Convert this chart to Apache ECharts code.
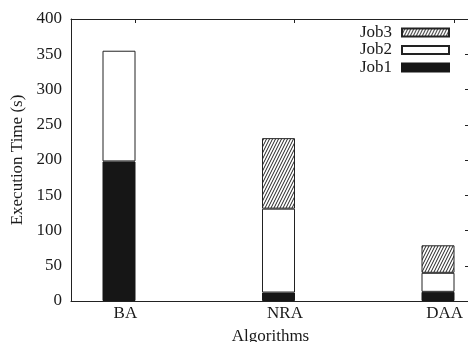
<!DOCTYPE html>
<html>
<head>
<meta charset="utf-8">
<script src="https://cdn.jsdelivr.net/npm/echarts@6/dist/echarts.min.js"></script>
<style>
  html, body { margin: 0; padding: 0; background: #fff; }
  #chart { width: 468px; height: 342px; }
</style>
</head>
<body>
<div id="chart"></div>
<script>
// Execution time per algorithm, stacked by job
const categories = ['BA', 'NRA', 'DAA'];
const job1 = [198, 12, 13];
const job2 = [157, 119, 27];
const job3 = ['-', 100, 39];
const yTicks = [0, 50, 100, 150, 200, 250, 300, 350, 400];

const FONT = 'Liberation Serif';
const INK = '#1a1a1a';

// Diagonal hatch fill for Job3
function hatchPattern() {
  const c = document.createElement('canvas');
  c.width = 3; c.height = 6;
  const g = c.getContext('2d');
  g.fillStyle = '#fff';
  g.fillRect(0, 0, 3, 6);
  g.strokeStyle = '#222';
  g.lineWidth = 1;
  for (const dx of [-3, 0, 3]) {
    g.beginPath();
    g.moveTo(dx, 6);
    g.lineTo(dx + 3, 0);
    g.stroke();
  }
  return { image: c, repeat: 'repeat' };
}

const chart = echarts.init(document.getElementById('chart'), null, { renderer: 'canvas' });

const TOP = 19, BOTTOM = 41;

const barBase = {
  type: 'bar',
  stack: 'jobs',
  barWidth: 33,
  xAxisIndex: 2,
  yAxisIndex: 2
};

chart.setOption({
  animation: false,
  backgroundColor: '#fff',
  grid: [
    // frame grid: x range -0.3 .. 2.2 in category units
    { left: 71, right: -2, top: TOP, bottom: BOTTOM, outerBoundsMode: 'none', containLabel: false },
    // bar grid: three equal category bands on the same unit scale
    { left: 39.25, width: 478.5, top: TOP, bottom: BOTTOM, outerBoundsMode: 'none', containLabel: false }
  ],
  legend: {
    data: ['Job3', 'Job2', 'Job1'],
    orient: 'vertical',
    right: 18,
    top: 24,
    padding: 0,
    align: 'right',
    icon: 'rect',
    itemWidth: 47,
    itemHeight: 8,
    itemGap: 0.5,
    selectedMode: false,
    textStyle: { fontFamily: FONT, fontSize: 17, lineHeight: 17, color: INK, padding: [0, 5, 0, 0] }
  },
  xAxis: [
    {
      type: 'value',
      gridIndex: 0,
      position: 'bottom',
      min: -0.3,
      max: 2.2,
      name: 'Algorithms',
      nameLocation: 'middle',
      nameGap: 27,
      nameTextStyle: { fontFamily: FONT, fontSize: 17, color: INK },
      axisLine: { show: true, onZero: false, lineStyle: { color: '#222', width: 1 } },
      axisTick: { show: false },
      splitLine: { show: false },
      axisLabel: {
        customValues: [0, 1, 2],
        formatter: v => categories[Math.round(v)] || '',
        fontFamily: FONT,
        fontSize: 17,
        color: INK,
        margin: 4,
        padding: [0, 0, 0, 13]
      }
    },
    {
      type: 'value',
      gridIndex: 0,
      position: 'top',
      min: -0.3,
      max: 2.2,
      axisLine: { show: true, onZero: false, lineStyle: { color: '#222', width: 1 } },
      axisTick: { show: true, inside: true, length: 4, customValues: [0.1, 1.1, 2.1], lineStyle: { color: '#222' } },
      axisLabel: { show: false },
      splitLine: { show: false }
    },
    {
      type: 'category',
      gridIndex: 1,
      data: categories,
      boundaryGap: true,
      show: false
    }
  ],
  yAxis: [
    {
      type: 'value',
      gridIndex: 0,
      position: 'left',
      min: 0,
      max: 400,
      interval: 50,
      name: 'Execution Time (s)',
      nameLocation: 'middle',
      nameGap: 45,
      nameTextStyle: { fontFamily: FONT, fontSize: 17, color: INK },
      axisLine: { show: true, onZero: false, lineStyle: { color: '#222', width: 1 } },
      axisTick: { show: false },
      splitLine: { show: false },
      axisLabel: {
        customValues: yTicks,
        fontFamily: FONT,
        fontSize: 17,
        color: INK,
        margin: 9
      }
    },
    {
      type: 'value',
      gridIndex: 0,
      position: 'right',
      min: 0,
      max: 400,
      interval: 50,
      axisLine: { show: true, onZero: false, lineStyle: { color: '#222', width: 1 } },
      axisTick: { show: true, inside: true, length: 5, lineStyle: { color: '#222' } },
      axisLabel: { show: false },
      splitLine: { show: false }
    },
    {
      type: 'value',
      gridIndex: 1,
      min: 0,
      max: 400,
      interval: 50,
      show: false
    }
  ],
  series: [
    Object.assign({}, barBase, {
      name: 'Job1',
      data: job1,
      itemStyle: { color: '#161616', borderColor: '#161616', borderWidth: 1 }
    }),
    Object.assign({}, barBase, {
      name: 'Job2',
      data: job2,
      itemStyle: { color: '#ffffff', borderColor: '#222', borderWidth: 1 }
    }),
    Object.assign({}, barBase, {
      name: 'Job3',
      data: job3,
      itemStyle: { color: hatchPattern(), borderColor: '#222', borderWidth: 1 }
    })
  ]
});
</script>
</body>
</html>
